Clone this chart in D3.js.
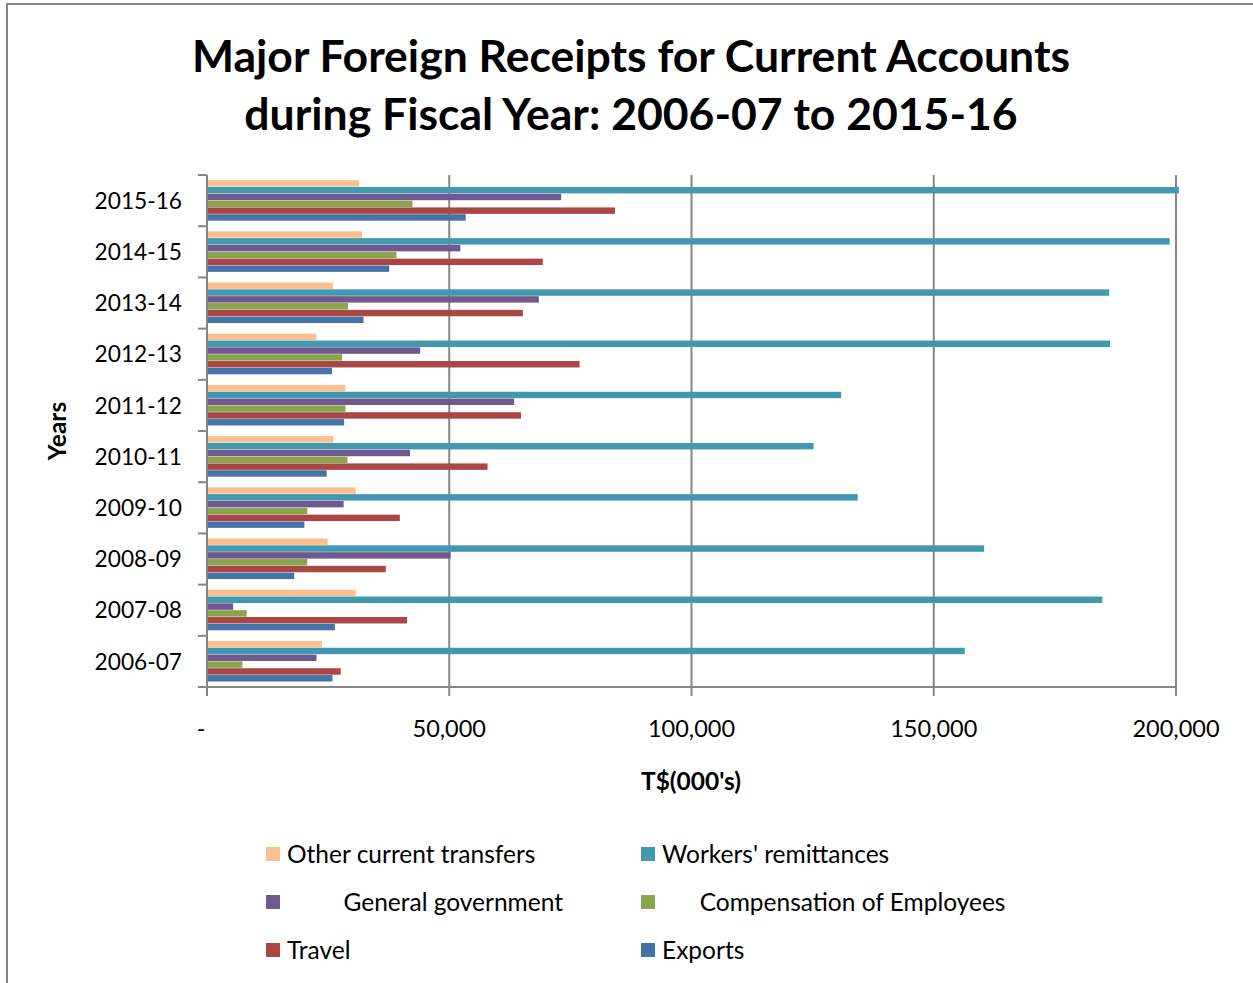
<!DOCTYPE html>
<html lang="en">
<head>
<meta charset="UTF-8">
<title>Major Foreign Receipts for Current Accounts</title>
<script src="https://d3js.org/d3.v7.min.js"></script>
<style>
    body { margin: 0; background: #fff; }
    svg { display: block; font-family: Lato, "Open Sans", sans-serif; }
</style>
</head>
<body>
<svg width="1253" height="983"></svg>
<script>
// categories, top to bottom as drawn
const years = ["2015-16", "2014-15", "2013-14", "2012-13", "2011-12", "2010-11", "2009-10", "2008-09", "2007-08", "2006-07"];

// series values in T$(000's), same order as years
const otherTransfers = [31400, 32000, 26000, 22600, 28600, 26100, 30700, 24900, 30700, 23700];
const workersRemit   = [200600, 198700, 186200, 186400, 130900, 125200, 134300, 160400, 184800, 156400];
const generalGov     = [73100, 52300, 68500, 44000, 63400, 41900, 28200, 50300, 5400, 22600];
const compensation   = [42400, 39100, 29100, 27900, 28600, 29000, 20700, 20700, 8200, 7300];
const travel         = [84200, 69300, 65200, 76900, 64800, 57900, 39800, 36900, 41300, 27600];
const exportsVals    = [53400, 37600, 32300, 25800, 28300, 24700, 20100, 18000, 26400, 25900];

const seriesNames = ["Other current transfers", "Workers' remittances", "General government",
                     "Compensation of Employees", "Travel", "Exports"];
const seriesColors = ["#FAC090", "#4198AF", "#71588F", "#89A54E", "#AA4643", "#4572A7"];
const seriesValues = [otherTransfers, workersRemit, generalGov, compensation, travel, exportsVals];
// legend labels keep the padding spaces seen in the original
const legendLabels = ["Other current transfers", "Workers' remittances", "         General government",
                      "      Compensation of Employees", "Travel", "Exports"];

const xTicks = [0, 50000, 100000, 150000, 200000];
const xTickLabels = ["-", "50,000", "100,000", "150,000", "200,000"];

const svg = d3.select("svg");
const grey = "#868686";

// outer chart border (only top and left edges fall inside the picture)
svg.append("rect")
    .attr("x", 7).attr("y", 4)
    .attr("width", 1300).attr("height", 1100)
    .attr("fill", "none")
    .attr("stroke", grey)
    .attr("stroke-width", 2);

// title
svg.append("g")
    .selectAll("text")
    .data(["Major Foreign Receipts for Current Accounts", "during Fiscal Year: 2006-07 to 2015-16"])
    .join("text")
    .attr("x", 631)
    .attr("y", (d, i) => 72 + i * 58)
    .attr("text-anchor", "middle")
    .attr("font-size", 44.5)
    .attr("font-weight", "bold")
    .attr("fill", "#000")
    .text(d => d);

const x = d3.scaleLinear().domain([0, 200000]).range([207, 1176]);
const y = d3.scaleBand().domain(years).range([175, 687]).paddingInner(0.2).paddingOuter(0.1);
const ySeries = d3.scaleBand().domain(d3.range(seriesNames.length)).range([0, y.bandwidth()]);

// vertical gridlines
svg.append("g")
    .selectAll("line")
    .data(xTicks.slice(1))
    .join("line")
    .attr("x1", d => x(d)).attr("x2", d => x(d))
    .attr("y1", 175).attr("y2", 687)
    .attr("stroke", grey)
    .attr("stroke-width", 2);

// bars
const rows = [];
years.forEach((yr, i) => {
    seriesValues.forEach((vals, s) => rows.push({ year: yr, s: s, v: vals[i] }));
});
svg.append("g")
    .selectAll("rect")
    .data(rows)
    .join("rect")
    .attr("x", x(0))
    .attr("y", d => y(d.year) + ySeries(d.s))
    .attr("width", d => x(d.v) - x(0))
    .attr("height", ySeries.bandwidth() - 0.4)
    .attr("fill", d => seriesColors[d.s]);

// x axis
const xAxis = svg.append("g");
xAxis.append("line")
    .attr("x1", x(0)).attr("x2", x(200000))
    .attr("y1", 687).attr("y2", 687)
    .attr("stroke", grey).attr("stroke-width", 2);
xAxis.selectAll(".tick")
    .data(xTicks)
    .join("line")
    .attr("x1", d => x(d)).attr("x2", d => x(d))
    .attr("y1", 687).attr("y2", 696)
    .attr("stroke", grey).attr("stroke-width", 2);
xAxis.selectAll("text")
    .data(xTicks)
    .join("text")
    .attr("x", (d, i) => i === 0 ? x(d) - 6 : x(d))
    .attr("y", 737)
    .attr("text-anchor", "middle")
    .attr("font-size", 23.5)
    .text((d, i) => xTickLabels[i]);

// y axis
const yAxis = svg.append("g");
yAxis.append("line")
    .attr("x1", x(0)).attr("x2", x(0))
    .attr("y1", 175).attr("y2", 687)
    .attr("stroke", grey).attr("stroke-width", 2);
const step = y.step();
yAxis.selectAll(".tick")
    .data(d3.range(years.length + 1))
    .join("line")
    .attr("x1", x(0) - 9).attr("x2", x(0))
    .attr("y1", i => 175 + i * step).attr("y2", i => 175 + i * step)
    .attr("stroke", grey).attr("stroke-width", 2);
yAxis.selectAll("text")
    .data(years)
    .join("text")
    .attr("x", 182)
    .attr("y", d => y(d) + y.bandwidth() / 2)
    .attr("dy", "0.36em")
    .attr("text-anchor", "end")
    .attr("font-size", 22.7)
    .text(d => d);

// axis titles
svg.append("text")
    .attr("x", 691).attr("y", 790)
    .attr("text-anchor", "middle")
    .attr("font-size", 24.5)
    .attr("font-weight", "bold")
    .text("T$(000's)");
svg.append("text")
    .attr("transform", "translate(66,431) rotate(-90)")
    .attr("text-anchor", "middle")
    .attr("font-size", 24.5)
    .attr("font-weight", "bold")
    .text("Years");

// legend: two columns, three rows
const legend = svg.append("g")
    .selectAll("g")
    .data(legendLabels)
    .join("g")
    .attr("transform", (d, i) => `translate(${i % 2 === 0 ? 266 : 641},${854 + Math.floor(i / 2) * 48})`);
legend.append("rect")
    .attr("x", 0).attr("y", -7)
    .attr("width", 14).attr("height", 14)
    .attr("fill", (d, i) => seriesColors[i]);
legend.append("text")
    .attr("x", 21)
    .attr("dy", "0.36em")
    .attr("font-size", 24.5)
    .attr("xml:space", "preserve")
    .style("white-space", "pre")
    .text(d => d);
</script>
</body>
</html>
